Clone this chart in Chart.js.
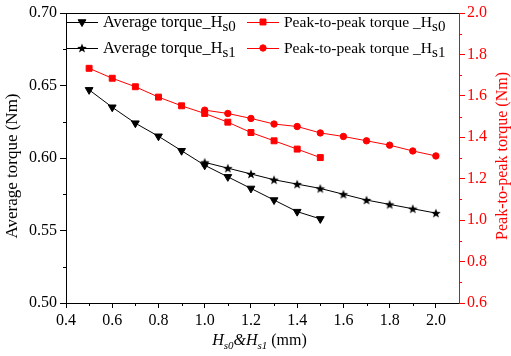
<!DOCTYPE html>
<html>
<head>
<meta charset="utf-8">
<script src="https://cdn.jsdelivr.net/npm/chart.js@4.4.0/dist/chart.umd.min.js"></script>
<style>
  html, body { margin: 0; padding: 0; background: #fff; }
</style>
</head>
<body>
<canvas id="torque" width="511" height="356"></canvas>
<script>
// values
const hs0 = [0.5, 0.6, 0.7, 0.8, 0.9, 1.0, 1.1, 1.2, 1.3, 1.4, 1.5];
const hs1 = [1.0, 1.1, 1.2, 1.3, 1.4, 1.5, 1.6, 1.7, 1.8, 1.9, 2.0];
const avgTorqueHs0 = [0.647, 0.635, 0.624, 0.615, 0.605, 0.595, 0.587, 0.579, 0.571, 0.563, 0.558];
const avgTorqueHs1 = [0.597, 0.593, 0.589, 0.585, 0.582, 0.579, 0.575, 0.571, 0.568, 0.565, 0.562];
const p2pTorqueHs0 = [1.733, 1.685, 1.644, 1.594, 1.552, 1.515, 1.473, 1.423, 1.383, 1.343, 1.302];
const p2pTorqueHs1 = [1.531, 1.515, 1.491, 1.464, 1.452, 1.421, 1.404, 1.383, 1.362, 1.334, 1.310];
const xTicks = [0.4, 0.6, 0.8, 1.0, 1.2, 1.4, 1.6, 1.8, 2.0];
const avgTicks = [0.50, 0.55, 0.60, 0.65, 0.70];
const p2pTicks = [0.6, 0.8, 1.0, 1.2, 1.4, 1.6, 1.8, 2.0];

const RED = "#ff0000";
const FONT = "'Liberation Serif', serif";
Chart.defaults.font.family = FONT;
Chart.defaults.font.size = 16;

function xy(xs, ys) {
  return xs.map((x, i) => ({ x: x, y: ys[i] }));
}

function makeStar(r) {
  const c = document.createElement("canvas");
  c.width = c.height = Math.ceil(r * 2 + 2);
  const g = c.getContext("2d");
  g.beginPath();
  for (let i = 0; i < 10; i++) {
    const rr = i % 2 ? r * 0.42 : r;
    const a = -Math.PI / 2 + i * Math.PI / 5;
    g.lineTo(c.width / 2 + rr * Math.cos(a), c.height / 2 + rr * Math.sin(a) + 0.5);
  }
  g.closePath();
  g.fillStyle = "#000";
  g.fill();
  return c;
}
const star = makeStar(5);

const datasets = [
  {
    label: "Average torque_H|s0",
    data: xy(hs0, avgTorqueHs0),
    yAxisID: "yAvg",
    borderColor: "#000", backgroundColor: "#000",
    pointStyle: "triangle", rotation: 180, pointRadius: 4.5,
  },
  {
    label: "Average torque_H|s1",
    data: xy(hs1, avgTorqueHs1),
    yAxisID: "yAvg",
    borderColor: "#000", backgroundColor: "#000",
    pointStyle: star, pointRadius: 5,
  },
  {
    label: "Peak-to-peak torque _H|s0",
    data: xy(hs0, p2pTorqueHs0),
    yAxisID: "yP2p",
    borderColor: RED, backgroundColor: RED,
    pointStyle: "rect", pointRadius: 4.2,
  },
  {
    label: "Peak-to-peak torque _H|s1",
    data: xy(hs1, p2pTorqueHs1),
    yAxisID: "yP2p",
    borderColor: RED, backgroundColor: RED,
    pointStyle: "circle", pointRadius: 3.2,
  },
];
datasets.forEach(d => { d.borderWidth = 1; d.pointBorderWidth = 1; });

// minor ticks, top frame, titles with subscripts and the legend
const extras = {
  id: "extras",
  afterDraw(chart) {
    const ctx = chart.ctx;
    const a = chart.chartArea;
    const sx = chart.scales.x, sl = chart.scales.yAvg, sr = chart.scales.yP2p;
    ctx.save();
    ctx.lineWidth = 1;

    // top frame
    ctx.strokeStyle = "#000";
    ctx.beginPath();
    ctx.moveTo(a.left, a.top + 0.5);
    ctx.lineTo(a.right, a.top + 0.5);
    ctx.stroke();

    // minor ticks
    ctx.beginPath();
    for (let i = 0; i < xTicks.length - 1; i++) {
      const px = Math.round(sx.getPixelForValue(xTicks[i] + 0.1)) + 0.5;
      ctx.moveTo(px, a.bottom);
      ctx.lineTo(px, a.bottom + 3);
    }
    for (let i = 0; i < avgTicks.length - 1; i++) {
      const py = Math.round(sl.getPixelForValue(avgTicks[i] + 0.025)) + 0.5;
      ctx.moveTo(a.left, py);
      ctx.lineTo(a.left - 3, py);
    }
    ctx.stroke();
    ctx.strokeStyle = RED;
    ctx.beginPath();
    for (let i = 0; i < p2pTicks.length - 1; i++) {
      const py = Math.round(sr.getPixelForValue(p2pTicks[i] + 0.1)) + 0.5;
      ctx.moveTo(a.right, py);
      ctx.lineTo(a.right + 3, py);
    }
    ctx.stroke();

    // y titles
    ctx.textAlign = "center";
    ctx.textBaseline = "middle";
    ctx.font = "17px " + FONT;
    ctx.fillStyle = "#000";
    ctx.save();
    ctx.translate(13, 166);
    ctx.rotate(-Math.PI / 2);
    ctx.fillText("Average torque (Nm)", 0, 0);
    ctx.restore();
    ctx.font = "16px " + FONT;
    ctx.fillStyle = RED;
    ctx.save();
    ctx.translate(503, 156);
    ctx.rotate(-Math.PI / 2);
    ctx.fillText("Peak-to-peak torque (Nm)", 0, 0);
    ctx.restore();

    // x title: Hs0&Hs1 (mm)
    const parts = [
      ["H", "italic 16px " + FONT, 0],
      ["s0", "italic 11px " + FONT, 4],
      ["&", "italic 16px " + FONT, 0],
      ["H", "italic 16px " + FONT, 0],
      ["s1", "italic 11px " + FONT, 4],
      [" (mm)", "16px " + FONT, 0],
    ];
    let total = 0;
    parts.forEach(p => { ctx.font = p[1]; total += ctx.measureText(p[0]).width; });
    let tx = (a.left + a.right) / 2 - total / 2 - 3;
    ctx.textAlign = "left";
    ctx.textBaseline = "alphabetic";
    ctx.fillStyle = "#000";
    parts.forEach(p => {
      ctx.font = p[1];
      ctx.fillText(p[0], tx, 345 + p[2]);
      tx += ctx.measureText(p[0]).width;
    });

    // legend
    const spots = [[66, 22, 16.3], [66, 48, 16.3], [247, 22, 15.5], [247, 48, 15.5]];
    chart.data.datasets.forEach((d, i) => {
      const [lx, ly, fs] = spots[i];
      ctx.strokeStyle = d.borderColor;
      ctx.fillStyle = d.backgroundColor;
      ctx.beginPath();
      ctx.moveTo(lx, ly + 0.5);
      ctx.lineTo(lx + 32, ly + 0.5);
      ctx.stroke();
      Chart.helpers.drawPoint(ctx, {
        pointStyle: d.pointStyle, rotation: d.rotation || 0,
        radius: d.pointRadius, borderWidth: 1,
      }, lx + 16, ly);
      const [main, sub] = d.label.split("|");
      ctx.fillStyle = "#000";
      ctx.font = fs + "px " + FONT;
      ctx.fillText(main, lx + 37, ly + 5);
      const w = ctx.measureText(main).width;
      ctx.font = "15px " + FONT;
      ctx.fillText(sub, lx + 37 + w, ly + 9);
    });
    ctx.restore();
  },
};

const chart = new Chart(document.getElementById("torque"), {
  type: "line",
  data: { datasets: datasets },
  plugins: [extras],
  options: {
    responsive: false,
    animation: false,
    layout: { padding: { top: 13, left: 0, right: 0, bottom: 0 } },
    plugins: { legend: { display: false }, tooltip: { enabled: false } },
    scales: {
      x: {
        type: "linear",
        min: 0.4, max: 2.1,
        afterBuildTicks: s => { s.ticks = xTicks.map(v => ({ value: v })); },
        afterFit: s => { s.height = 53; },
        ticks: {
          color: "#000", padding: 3,
          font: { family: FONT, size: 16 },
          callback: v => v.toFixed(1),
        },
        grid: { drawOnChartArea: false, drawTicks: true, tickLength: 5, color: "#000" },
        border: { color: "#000", width: 1 },
      },
      yAvg: {
        type: "linear", position: "left",
        min: 0.5, max: 0.7,
        afterBuildTicks: s => { s.ticks = avgTicks.map(v => ({ value: v })); },
        afterFit: s => { s.width = 66; },
        ticks: {
          color: "#000", padding: 3,
          font: { family: FONT, size: 16 },
          callback: v => v.toFixed(2),
        },
        grid: { drawOnChartArea: false, drawTicks: true, tickLength: 6, color: "#000" },
        border: { color: "#000", width: 1 },
      },
      yP2p: {
        type: "linear", position: "right",
        min: 0.6, max: 2.0,
        afterBuildTicks: s => { s.ticks = p2pTicks.map(v => ({ value: v })); },
        afterFit: s => { s.width = 52; },
        ticks: {
          color: RED, padding: 2,
          font: { family: FONT, size: 16 },
          callback: v => v.toFixed(1),
        },
        grid: { drawOnChartArea: false, drawTicks: true, tickLength: 6, color: RED },
        border: { color: RED, width: 1 },
      },
    },
  },
});
</script>
</body>
</html>
